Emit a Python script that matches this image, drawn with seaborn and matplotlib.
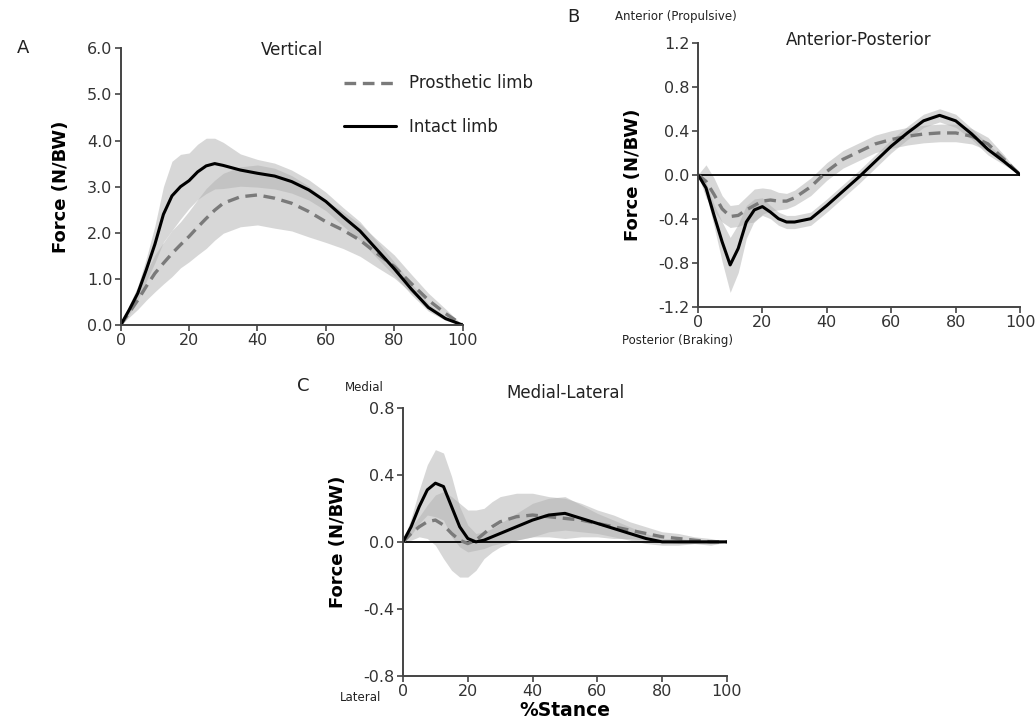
import matplotlib
matplotlib.use('Agg')
import matplotlib.pyplot as plt
import seaborn as sns
import numpy as np

# % stance sample points
stance = [0, 2.5, 5, 7.5, 10, 12.5, 15, 17.5, 20, 22.5, 25, 27.5, 30, 35, 40,
          45, 50, 55, 60, 65, 70, 75, 80, 85, 90, 95, 100]

# A - vertical
vert_intact = [0, 0.33, 0.69, 1.2, 1.75, 2.4, 2.8, 3.0, 3.13, 3.32, 3.45, 3.5, 3.46, 3.36, 3.29,
               3.23, 3.11, 2.93, 2.68, 2.35, 2.04, 1.63, 1.22, 0.78, 0.38, 0.14, 0]
vert_intact_sd = [0, 0.1, 0.15, 0.25, 0.4, 0.6, 0.75, 0.7, 0.6, 0.6, 0.6, 0.55, 0.5, 0.35, 0.3,
                  0.28, 0.25, 0.22, 0.2, 0.2, 0.2, 0.18, 0.15, 0.12, 0.08, 0.04, 0]
vert_prost = [0, 0.27, 0.54, 0.84, 1.12, 1.34, 1.55, 1.74, 1.92, 2.12, 2.31, 2.49, 2.64, 2.78, 2.82,
              2.75, 2.64, 2.46, 2.24, 2.06, 1.84, 1.55, 1.27, 0.9, 0.54, 0.25, 0]
vert_prost_sd = [0, 0.1, 0.2, 0.3, 0.4, 0.45, 0.5, 0.5, 0.55, 0.6, 0.65, 0.65, 0.65, 0.65, 0.65,
                 0.65, 0.6, 0.55, 0.45, 0.4, 0.35, 0.3, 0.25, 0.2, 0.15, 0.1, 0]

# B - anterior-posterior
ap_intact = [0, -0.12, -0.37, -0.61, -0.82, -0.67, -0.43, -0.32, -0.29, -0.34, -0.40, -0.43, -0.43, -0.40, -0.28,
             -0.15, -0.02, 0.12, 0.26, 0.38, 0.49, 0.54, 0.49, 0.37, 0.23, 0.12, 0]
ap_intact_sd = [0, 0.05, 0.1, 0.18, 0.25, 0.22, 0.15, 0.1, 0.08, 0.06, 0.06, 0.06, 0.06, 0.06, 0.06,
                0.06, 0.06, 0.06, 0.06, 0.06, 0.06, 0.06, 0.06, 0.05, 0.05, 0.03, 0]
ap_prost = [0, -0.06, -0.18, -0.31, -0.38, -0.37, -0.32, -0.28, -0.24, -0.23, -0.24, -0.24, -0.21, -0.11, 0.03,
            0.14, 0.21, 0.28, 0.32, 0.35, 0.37, 0.38, 0.38, 0.35, 0.28, 0.14, 0]
ap_prost_sd = [0, 0.15, 0.15, 0.12, 0.1, 0.1, 0.12, 0.15, 0.12, 0.1, 0.08, 0.07, 0.07, 0.08, 0.08,
               0.08, 0.08, 0.08, 0.08, 0.08, 0.08, 0.08, 0.08, 0.07, 0.06, 0.04, 0]

# C - medial-lateral
ml_intact = [0, 0.09, 0.21, 0.31, 0.35, 0.33, 0.21, 0.09, 0.02, 0.0, 0.01, 0.03, 0.05, 0.09, 0.13,
             0.16, 0.17, 0.14, 0.11, 0.08, 0.05, 0.02, 0.0, 0.0, 0.0, 0.0, 0]
ml_intact_sd = [0, 0.05, 0.1, 0.15, 0.2, 0.2, 0.18, 0.12, 0.08, 0.05, 0.05, 0.05, 0.06, 0.08, 0.1,
                0.1, 0.1, 0.08, 0.06, 0.05, 0.04, 0.03, 0.02, 0.02, 0.01, 0.01, 0]
ml_prost = [0, 0.05, 0.09, 0.12, 0.13, 0.10, 0.05, 0.01, -0.01, 0.01, 0.05, 0.09, 0.12, 0.15, 0.16,
            0.15, 0.14, 0.13, 0.11, 0.09, 0.07, 0.05, 0.03, 0.02, 0.01, 0.0, 0]
ml_prost_sd = [0, 0.04, 0.06, 0.1, 0.15, 0.2, 0.22, 0.22, 0.2, 0.18, 0.15, 0.15, 0.15, 0.14, 0.13,
               0.12, 0.12, 0.1, 0.08, 0.07, 0.05, 0.04, 0.03, 0.03, 0.02, 0.02, 0]

sns.set_theme(style='ticks')
plt.rcParams['font.family'] = ['DejaVu Sans']

fig = plt.figure(figsize=(10.36, 7.25), dpi=100)
ax_a = fig.add_axes([0.1165, 0.5517, 0.330, 0.3817])
ax_b = fig.add_axes([0.6737, 0.577, 0.311, 0.364])
ax_c = fig.add_axes([0.389, 0.0676, 0.3127, 0.370])

BAND = '#b0b0b0'
GREY = '#7a7a7a'
TXT = '#333333'


def draw_panel(ax, intact, intact_sd, prost, prost_sd, ylim, yticks, title, title_y, zero_line=False):
    x = np.array(stance)
    i, isd = np.array(intact), np.array(intact_sd)
    p, psd = np.array(prost), np.array(prost_sd)
    ax.fill_between(x, p - psd, p + psd, color=BAND, alpha=0.5, lw=0)
    ax.fill_between(x, i - isd, i + isd, color=BAND, alpha=0.5, lw=0)
    if zero_line:
        ax.axhline(0, color='black', lw=1.3, zorder=1)
    sns.lineplot(x=stance, y=prost, ax=ax, color=GREY, lw=2.4, linestyle=(0, (3.5, 2)),
                 label='Prosthetic limb')
    sns.lineplot(x=stance, y=intact, ax=ax, color='black', lw=2.2, label='Intact limb')
    ax.get_legend().remove()
    ax.set_xlim(0, 100)
    ax.set_ylim(*ylim)
    ax.set_xticks([0, 20, 40, 60, 80, 100])
    ax.set_yticks(yticks)
    ax.yaxis.set_major_formatter(matplotlib.ticker.FormatStrFormatter('%.1f'))
    ax.set_ylabel('Force (N/BW)', fontsize=13, fontweight='bold', color='black', labelpad=12)
    ax.set_xlabel('')
    ax.tick_params(labelsize=11.5, labelcolor=TXT, color='#444444', length=4, width=1.2, pad=2)
    for s in ['left', 'bottom']:
        ax.spines[s].set_color('#444444')
        ax.spines[s].set_linewidth(1.4)
    sns.despine(ax=ax)
    ax.text(0.5, title_y, title, transform=ax.transAxes, ha='center', va='center',
            fontsize=12, color='#222222')


draw_panel(ax_a, vert_intact, vert_intact_sd, vert_prost, vert_prost_sd, (0, 6),
           [0, 1, 2, 3, 4, 5, 6], 'Vertical', 0.995)
draw_panel(ax_b, ap_intact, ap_intact_sd, ap_prost, ap_prost_sd, (-1.2, 1.2),
           [-1.2, -0.8, -0.4, 0, 0.4, 0.8, 1.2], 'Anterior-Posterior', 1.01, zero_line=True)
draw_panel(ax_c, ml_intact, ml_intact_sd, ml_prost, ml_prost_sd, (-0.8, 0.8),
           [-0.8, -0.4, 0, 0.4, 0.8], 'Medial-Lateral', 1.055, zero_line=True)
ax_c.set_xlabel('%Stance', fontsize=13.5, fontweight='bold', color='black', labelpad=1)

# legend in panel A
handles, labels = ax_a.get_legend_handles_labels()
fig.legend(handles, labels, loc='upper left', bbox_to_anchor=(0.318, 0.918), frameon=False,
           fontsize=12, handlelength=3.1, labelspacing=1.55, labelcolor='#222222')

# panel letters and direction labels
fig.text(0.016, 0.934, 'A', fontsize=13, color='#222222', va='center')
fig.text(0.548, 0.977, 'B', fontsize=13, color='#222222', va='center')
fig.text(0.287, 0.467, 'C', fontsize=13, color='#222222', va='center')
fig.text(0.594, 0.977, 'Anterior (Propulsive)', fontsize=8.5, color='#222222', va='center')
fig.text(0.600, 0.531, 'Posterior (Braking)', fontsize=8.5, color='#222222', va='center')
fig.text(0.333, 0.466, 'Medial', fontsize=8.5, color='#222222', va='center')
fig.text(0.328, 0.038, 'Lateral', fontsize=8.5, color='#222222', va='center')

fig.savefig('out.png', dpi=100, facecolor='white')
